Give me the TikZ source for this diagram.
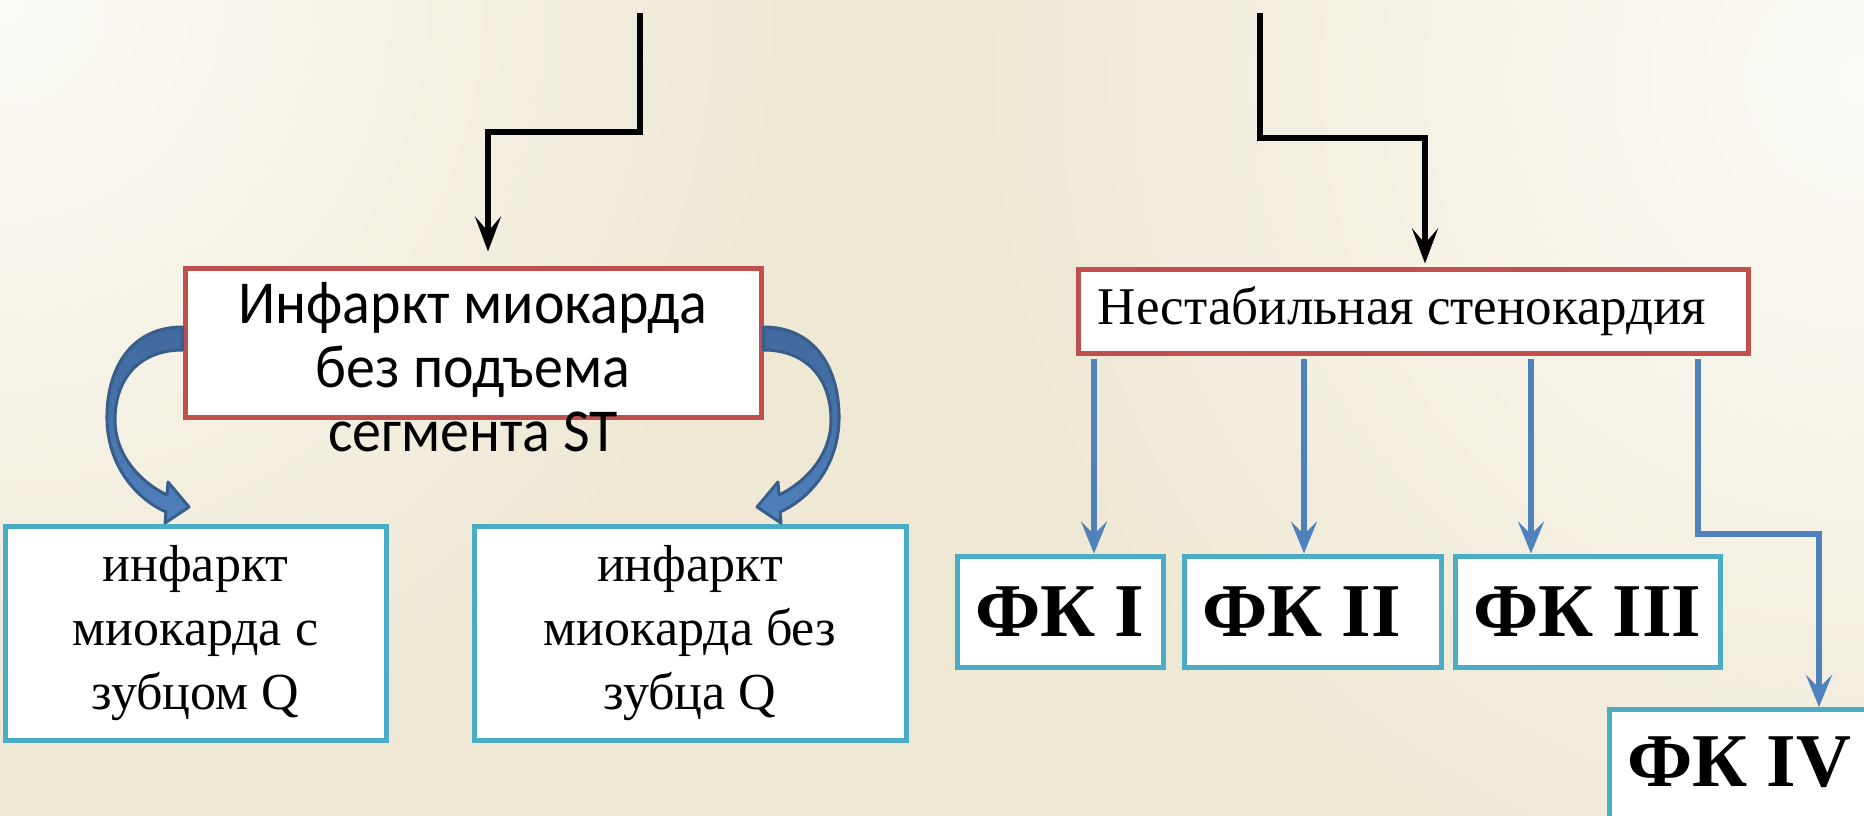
\documentclass[tikz,border=0pt]{standalone}
\usepackage{fontspec}
\setmainfont{Liberation Serif}
\newfontfamily\calfont[FakeStretch=0.95]{Carlito}
\usetikzlibrary{arrows.meta}
\definecolor{bg}{RGB}{238,232,212}
\definecolor{bgl}{RGB}{252,251,246}
\definecolor{redb}{RGB}{192,80,77}
\definecolor{cyanb}{RGB}{75,172,198}
\definecolor{bluea}{RGB}{79,129,189}
\definecolor{bluem}{RGB}{64,105,158}
\definecolor{blued}{RGB}{56,93,138}
\begin{document}
\begin{tikzpicture}[x=1pt,y=-1pt,
  redbox/.style={draw=redb, line width=5pt, fill=white, inner sep=0pt},
  cybox/.style={draw=cyanb, line width=5pt, fill=white, inner sep=0pt},
  blk/.style={draw=black, line width=6pt, -{Stealth[length=35pt,width=26pt,inset=15pt]}},
  blu/.style={draw=bluea, line width=5.5pt, -{Stealth[length=32pt,width=26pt,inset=13pt]}},
  curv/.style={draw=blued, line width=3pt, line join=round, top color=bluem, bottom color=bluea},
  fk/.style={cybox, minimum height=111pt, font=\fontsize{76}{80}\bfseries\selectfont},
  small/.style={cybox, minimum height=214pt, align=center, font=\fontsize{52}{64}\selectfont}]
\useasboundingbox (0,0) rectangle (1864,816);
\clip (0,0) rectangle (1864,816);
\fill[bg] (0,0) rectangle (1864,816);
\shade[inner color=bgl, outer color=bg] (0,0) circle (800pt);
\shade[inner color=bgl, outer color=bg] (1864,80) circle (900pt);

% top boxes
\node[redbox, minimum width=576pt, minimum height=149pt] (box1) at (473,342.5) {};
\node[align=center, inner sep=0pt, font=\calfont\fontsize{61}{64}\selectfont] (t1) at (473,367) {Инфаркт миокарда\\без подъема\\сегмента ST};
\node[redbox, minimum width=670pt, minimum height=84pt, font=\fontsize{53}{58}\selectfont] (box2) at (1413,311) {Нестабильная стенокардия\hspace{22pt}\mbox{}};

% black connectors
\coordinate (ltop) at (639.5,13);
\coordinate (lbend) at (488,132);
\draw[blk, shorten >=14pt] (ltop) |- (lbend) -- (lbend |- box1.north);
\coordinate (rtop) at (1260,13);
\coordinate (rbend) at (1425,138);
\draw[blk, shorten >=3pt] (rtop) |- (rbend) -- (rbend |- box2.north);

% lower left boxes
\node[small, minimum width=381pt] (qa) at (195.5,633) {инфаркт\\миокарда с\\зубцом Q};
\node[small, minimum width=432pt] (qb) at (690,633) {инфаркт\\миокарда без\\зубца Q};

% curved block arrows
\path[curv] (box1.west |- 0,327) .. controls (130,327) and (106,370) .. (107,420)
  .. controls (108,465) and (135,498) .. (166,512) -- (165,523) -- (189,507) -- (168,482) -- (167,495)
  .. controls (140,482) and (115,455) .. (115,420) .. controls (115,378) and (140,350) .. (box1.west |- 0,350) -- cycle;
\path[curv] (box1.east |- 0,327) .. controls (816,327) and (840,370) .. (839,420)
  .. controls (838,465) and (811,498) .. (780,512) -- (781,523) -- (757,507) -- (778,482) -- (779,495)
  .. controls (806,482) and (831,455) .. (831,420) .. controls (831,378) and (806,350) .. (box1.east |- 0,350) -- cycle;

% FK boxes
\node[fk, minimum width=206pt] (fk1) at (1060,611.5) {ФК I};
\node[fk, minimum width=257pt] (fk2) at (1312.5,611.5) {ФК II\hspace{22pt}\mbox{}};
\node[fk, minimum width=265pt] (fk3) at (1587.5,611.5) {ФК III};
\node[cybox, anchor=north west, minimum width=320pt, minimum height=160pt] (fk4) at (1607,707) {};
\node[anchor=base west, inner sep=0pt, font=\fontsize{76}{80}\bfseries\selectfont] (fk4t) at (1627,786) {ФК IV};

% blue arrows
\coordinate (a1) at (1094,359);
\coordinate (a2) at (1304,359);
\coordinate (a3) at (1531,359);
\coordinate (a4) at (1698,359);
\coordinate (a4b) at (1819,534);
\draw[blu] (a1) -- (a1 |- fk1.north);
\draw[blu] (a2) -- (a2 |- fk2.north);
\draw[blu] (a3) -- (a3 |- fk3.north);
\draw[blu] (a4) |- (a4b) -- (a4b |- fk4.north);
\end{tikzpicture}
\end{document}
